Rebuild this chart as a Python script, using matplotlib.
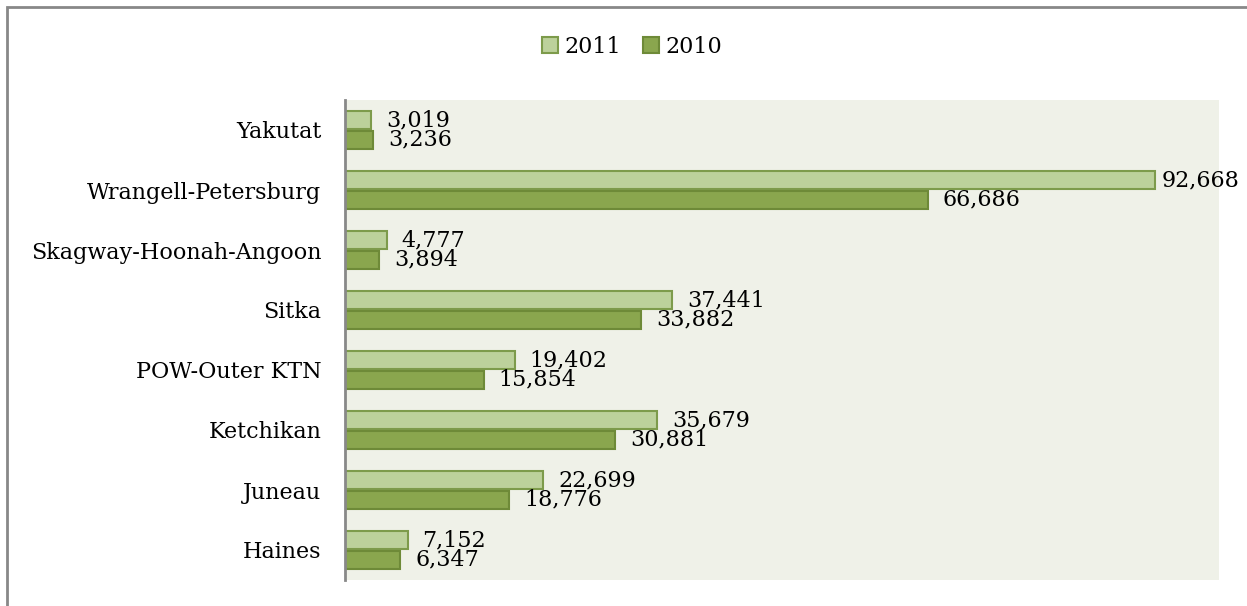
import numpy as np
import matplotlib.pyplot as plt
from matplotlib.patches import Rectangle

regions = ["Haines", "Juneau", "Ketchikan", "POW-Outer KTN", "Sitka",
           "Skagway-Hoonah-Angoon", "Wrangell-Petersburg", "Yakutat"]
vals_2011 = [7152, 22699, 35679, 19402, 37441, 4777, 92668, 3019]
vals_2010 = [6347, 18776, 30881, 15854, 33882, 3894, 66686, 3236]

c2011, e2011 = "#bcd19b", "#7d9b4b"
c2010, e2010 = "#8aa64e", "#6e8a38"

plt.rcParams['font.family'] = ['DejaVu Serif']

fig = plt.figure(figsize=(12.47, 6.06), dpi=100)
ax = fig.add_axes([345/1247, 26/606, 874/1247, 480/606])
ax.set_facecolor("#eff1e8")

y = np.arange(len(regions))
h = 0.3
b1 = ax.barh(y + 0.165, vals_2011, height=h, color=c2011, edgecolor=e2011,
             linewidth=1.5, label="2011")
b2 = ax.barh(y - 0.165, vals_2010, height=h, color=c2010, edgecolor=e2010,
             linewidth=1.5, label="2010")

# labels right of the bars; the longest one is nudged in so it fits
vmax = max(vals_2011 + vals_2010)
for bars in (b1, b2):
    for r in bars:
        w = r.get_width()
        off = 7 if w == vmax else 15
        ax.annotate(f"{w:,.0f}", (w, r.get_y() + r.get_height() / 2),
                    xytext=(off, 0), textcoords="offset pixels",
                    va="center", ha="left", fontsize=16)

ax.set_xlim(0, 100000)
ax.set_ylim(-0.5, len(regions) - 0.5)
ax.set_yticks(y)
ax.set_yticklabels(regions, fontsize=16)
ax.set_xticks([])
ax.tick_params(axis="y", length=0, pad=17)
for s in ["top", "right", "bottom"]:
    ax.spines[s].set_visible(False)
ax.spines["left"].set_color("#888888")
ax.spines["left"].set_linewidth(2)

fig.legend(handles=[b1, b2], loc="center", bbox_to_anchor=(632/1247, 1 - 47/606),
           ncol=2, frameon=False, fontsize=16, handlelength=0.7, handleheight=0.7,
           handletextpad=0.3, columnspacing=1.0)

fig.add_artist(Rectangle((7/1247, -0.1), 1.2, 1 - 7/606 + 0.1, transform=fig.transFigure,
                         fill=False, edgecolor="#888888", linewidth=2))

fig.savefig("out.png", dpi=100)
